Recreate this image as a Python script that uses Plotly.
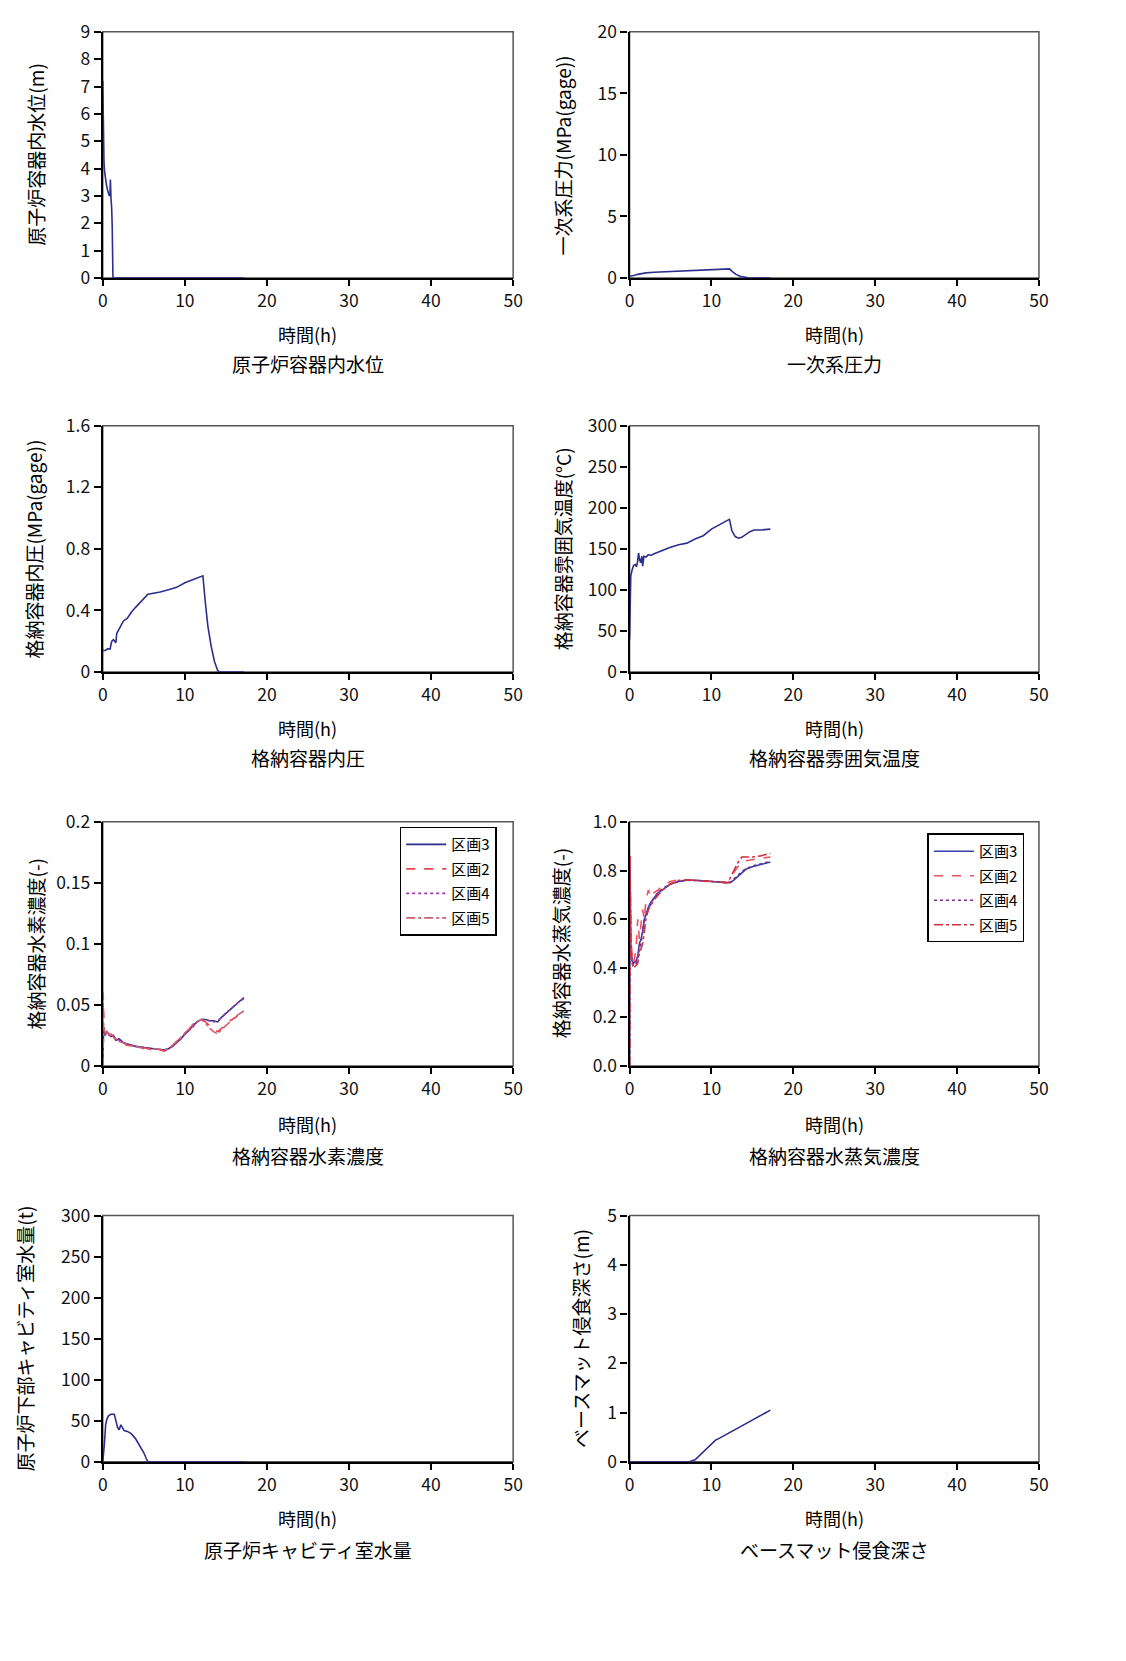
import plotly.graph_objects as go

# ---------------- data ----------------
x_ticks = [0, 10, 20, 30, 40, 50]
x_ticktext = ["0", "10", "20", "30", "40", "50"]

# 1 原子炉容器内水位
rv_t = [0, 0.03, 0.06, 0.1, 0.15, 0.22, 0.3, 0.45, 0.6, 0.8, 0.88, 0.93, 1.0, 1.08, 1.15, 1.2, 1.24, 3.0, 8.0, 13.0, 17.2]
rv_v = [7.2, 6.0, 5.6, 4.6, 4.2, 3.9, 3.7, 3.4, 3.2, 3.0, 3.05, 3.6, 2.9, 2.6, 1.9, 0.8, 0.0, 0.0, 0.0, 0.0, 0.0]

# 2 一次系圧力
pp_t = [0, 0.1, 0.5, 1, 2, 3, 4, 5, 6, 7, 8, 9, 10, 11, 11.8, 12.2, 12.6, 13.0, 13.5, 14.0, 14.5, 15.0, 17.2]
pp_v = [0.15, 0.15, 0.2, 0.3, 0.42, 0.47, 0.5, 0.55, 0.58, 0.63, 0.64, 0.65, 0.67, 0.7, 0.75, 0.74, 0.5, 0.3, 0.15, 0.07, 0.03, 0.01, 0.0]

# 3 格納容器内圧
cp_t = [0, 0.3, 0.6, 0.9, 1.0, 1.1, 1.3, 1.5, 1.6, 1.7, 1.9, 2.2, 2.5, 3.0, 3.5, 4.0, 4.5, 5.0, 5.5, 6.0, 7.0, 8.0, 9.0, 10.0, 11.0, 12.0, 12.2, 12.5, 12.8, 13.2, 13.6, 14.0, 14.2, 17.2]
cp_v = [0.14, 0.14, 0.15, 0.15, 0.18, 0.2, 0.21, 0.2, 0.19, 0.25, 0.27, 0.3, 0.33, 0.35, 0.39, 0.42, 0.45, 0.48, 0.505, 0.51, 0.52, 0.535, 0.55, 0.58, 0.6, 0.62, 0.625, 0.45, 0.3, 0.17, 0.07, 0.01, 0.0, 0.0]

# 4 格納容器雰囲気温度
ct_t = [0, 0.05, 0.15, 0.3, 0.5, 0.7, 0.85, 1.0, 1.1, 1.2, 1.35, 1.5, 1.6, 1.75, 2.0, 2.3, 2.6, 3.0, 4.0, 5.0, 6.0, 7.0, 8.0, 9.0, 10.0, 11.0, 12.0, 12.2, 12.5, 12.9, 13.3, 13.7, 14.2, 14.7, 15.2, 16.0, 17.2]
ct_v = [40, 100, 117, 124, 130, 131, 128, 136, 145, 138, 133, 141, 129, 141, 140, 143, 142, 144, 148, 152, 155, 157, 162, 166, 174, 180, 185, 186, 172, 165, 163, 164, 168, 171, 173, 173, 174]

# 5 格納容器水素濃度
zones = ["区画3", "区画2", "区画4", "区画5"]
h_t = [0, 0.05, 0.1, 0.2, 0.3, 0.5, 0.8, 1.0, 1.3, 1.6, 2.0, 2.5, 3.0, 4.0, 5.0, 6.0, 7.0, 7.5, 8.0, 8.5, 9.0, 9.5, 10.0, 10.5, 11.0, 11.5, 12.0, 12.5, 13.0, 13.5, 14.0, 14.5, 15.0, 15.5, 16.0, 16.5, 17.2]
h_z3 = [0, 0.02, 0.03, 0.027, 0.025, 0.028, 0.026, 0.024, 0.025, 0.021, 0.022, 0.019, 0.018, 0.016, 0.015, 0.014, 0.013, 0.013, 0.014, 0.016, 0.019, 0.022, 0.026, 0.029, 0.033, 0.036, 0.038, 0.038, 0.037, 0.037, 0.036, 0.04, 0.043, 0.046, 0.049, 0.052, 0.056]
h_z2 = [0, 0.06, 0.045, 0.03, 0.026, 0.029, 0.025, 0.026, 0.024, 0.022, 0.021, 0.018, 0.017, 0.016, 0.015, 0.013, 0.013, 0.012, 0.014, 0.017, 0.02, 0.023, 0.027, 0.03, 0.034, 0.036, 0.038, 0.036, 0.033, 0.03, 0.028, 0.031, 0.034, 0.037, 0.039, 0.041, 0.044]
h_z4 = [0, 0.015, 0.028, 0.026, 0.027, 0.027, 0.025, 0.025, 0.024, 0.022, 0.021, 0.019, 0.018, 0.016, 0.015, 0.014, 0.013, 0.013, 0.014, 0.016, 0.019, 0.022, 0.026, 0.029, 0.032, 0.036, 0.038, 0.038, 0.037, 0.036, 0.037, 0.04, 0.043, 0.046, 0.049, 0.052, 0.055]
h_z5 = [0, 0.03, 0.035, 0.028, 0.026, 0.028, 0.026, 0.025, 0.023, 0.022, 0.02, 0.019, 0.017, 0.016, 0.014, 0.014, 0.013, 0.013, 0.014, 0.017, 0.02, 0.023, 0.027, 0.03, 0.034, 0.036, 0.038, 0.035, 0.031, 0.028, 0.026, 0.03, 0.033, 0.036, 0.039, 0.042, 0.045]

# 6 格納容器水蒸気濃度
s_t = [0, 0.05, 0.15, 0.3, 0.5, 0.8, 1.0, 1.2, 1.4, 1.6, 1.8, 2.0, 2.3, 2.6, 3.0, 3.5, 4.0, 5.0, 6.0, 7.0, 8.0, 9.0, 10.0, 11.0, 12.0, 12.3, 12.7, 13.2, 13.7, 14.2, 15.0, 16.0, 17.2]
s_z3 = [0, 0.85, 0.5, 0.43, 0.42, 0.43, 0.45, 0.5, 0.52, 0.55, 0.6, 0.62, 0.65, 0.67, 0.69, 0.71, 0.72, 0.745, 0.755, 0.76, 0.76, 0.758, 0.755, 0.752, 0.75, 0.75, 0.76, 0.775, 0.79, 0.805, 0.815, 0.825, 0.835]
s_z2 = [0, 0.87, 0.55, 0.45, 0.42, 0.48, 0.6, 0.52, 0.58, 0.64, 0.6, 0.68, 0.72, 0.69, 0.71, 0.72, 0.74, 0.755, 0.762, 0.762, 0.76, 0.758, 0.755, 0.752, 0.75, 0.76, 0.79, 0.815, 0.83, 0.84, 0.845, 0.85, 0.855]
s_z4 = [0, 0.8, 0.48, 0.42, 0.41, 0.42, 0.44, 0.48, 0.5, 0.56, 0.6, 0.62, 0.64, 0.66, 0.69, 0.71, 0.725, 0.745, 0.755, 0.76, 0.76, 0.758, 0.755, 0.752, 0.75, 0.752, 0.765, 0.78, 0.795, 0.808, 0.818, 0.827, 0.838]
s_z5 = [0, 0.86, 0.52, 0.42, 0.4, 0.41, 0.42, 0.46, 0.48, 0.5, 0.55, 0.6, 0.64, 0.66, 0.68, 0.7, 0.72, 0.745, 0.76, 0.762, 0.76, 0.758, 0.755, 0.752, 0.75, 0.77, 0.8, 0.83, 0.855, 0.855, 0.855, 0.86, 0.87]

# 7 原子炉キャビティ室水量
cw_t = [0, 0.1, 0.2, 0.35, 0.5, 0.7, 1.0, 1.4, 1.55, 1.65, 1.8, 2.0, 2.2, 2.4, 2.6, 3.0, 3.5, 4.0, 4.5, 5.0, 5.3, 5.5, 10.0, 17.2]
cw_v = [0, 8, 22, 45, 52, 56, 58, 58, 50, 48, 42, 39, 45, 42, 38, 37, 34, 28, 20, 11, 4, 0, 0, 0]

# 8 ベースマット侵食深さ
be_t = [0, 5, 7.3, 8.0, 8.5, 9.0, 9.5, 10.0, 10.5, 11.0, 12.0, 13.0, 14.0, 15.0, 16.0, 17.2]
be_v = [0, 0, 0, 0.04, 0.12, 0.22, 0.3, 0.38, 0.44, 0.48, 0.57, 0.66, 0.75, 0.84, 0.93, 1.05]

# y-axis tick definitions
y1_ticks = [0, 1, 2, 3, 4, 5, 6, 7, 8, 9]
y1_text = ["0", "1", "2", "3", "4", "5", "6", "7", "8", "9"]
y2_ticks = [0, 5, 10, 15, 20]
y2_text = ["0", "5", "10", "15", "20"]
y3_ticks = [0, 0.4, 0.8, 1.2, 1.6]
y3_text = ["0", "0.4", "0.8", "1.2", "1.6"]
y4_ticks = [0, 50, 100, 150, 200, 250, 300]
y4_text = ["0", "50", "100", "150", "200", "250", "300"]
y5_ticks = [0, 0.05, 0.1, 0.15, 0.2]
y5_text = ["0", "0.05", "0.1", "0.15", "0.2"]
y6_ticks = [0, 0.2, 0.4, 0.6, 0.8, 1.0]
y6_text = ["0.0", "0.2", "0.4", "0.6", "0.8", "1.0"]
y7_ticks = [0, 50, 100, 150, 200, 250, 300]
y7_text = ["0", "50", "100", "150", "200", "250", "300"]
y8_ticks = [0, 1, 2, 3, 4, 5]
y8_text = ["0", "1", "2", "3", "4", "5"]

y_titles = ["原子炉容器内水位(m)", "一次系圧力(MPa(gage))", "格納容器内圧(MPa(gage))", "格納容器雰囲気温度(°C)",
            "格納容器水素濃度(-)", "格納容器水蒸気濃度(-)", "原子炉下部キャビティ室水量(t)", "ベースマット侵食深さ(m)"]
captions = ["原子炉容器内水位", "一次系圧力", "格納容器内圧", "格納容器雰囲気温度",
            "格納容器水素濃度", "格納容器水蒸気濃度", "原子炉キャビティ室水量", "ベースマット侵食深さ"]
x_title = "時間(h)"

# ---------------- layout helpers ----------------
OX, OY = 8, 8
FW, FH = 1110, 1645
def px_x(x):
    return (x - OX) / FW
def px_y(y):
    return 1 - (y - OY) / FH

FONT = "Noto Sans CJK JP"
NAVY = "#2B2E8C"
ZCOL = {"区画3": "#2B2E8C", "区画2": "#F0404A", "区画4": "#9A3AA8", "区画5": "#D06070"}
ZCOL6 = {"区画3": "#3A3FB0", "区画2": "#F05060", "区画4": "#7A2E8E", "区画5": "#D03040"}
ZDASH = {"区画3": "solid", "区画2": "dash", "区画4": "dot", "区画5": "dashdot"}

cols = [(99, 515), (633, 1048)]
rows = [(18, 268), (418, 668), (820, 1068), (1220, 1470)]
ytitle_x = [31, 565, 29, 565, 31, 563, 20, 583]
xtitle_y = [325, 725, 1127, 1527]
caption_y = [355, 755, 1159, 1559]

yranges = [[0, 9], [0, 20], [0, 1.6], [0, 300], [0, 0.2], [0, 1.0], [0, 300], [0, 5]]
yticks = [(y1_ticks, y1_text), (y2_ticks, y2_text), (y3_ticks, y3_text), (y4_ticks, y4_text),
          (y5_ticks, y5_text), (y6_ticks, y6_text), (y7_ticks, y7_text), (y8_ticks, y8_text)]
yminor = [None, None, None, None, 0.01, 0.05, None, None]

fig = go.Figure()

def add_line(i, t, v, name=None, color=NAVY, dash="solid", legend=None):
    sfx = "" if i == 1 else str(i)
    fig.add_trace(go.Scatter(
        x=t, y=v, mode="lines", name=name or "",
        line=dict(color=color, width=1.6, dash=dash),
        xaxis="x" + sfx, yaxis="y" + sfx,
        showlegend=legend is not None, legend=legend or "legend",
        legendgroup=(name or "") + str(i),
        hoverinfo="skip"))

add_line(1, rv_t, rv_v)
add_line(2, pp_t, pp_v)
add_line(3, cp_t, cp_v)
add_line(4, ct_t, ct_v)
for z, vals in zip(zones, [h_z3, h_z2, h_z4, h_z5]):
    add_line(5, h_t, vals, name=z, color=ZCOL[z], dash=ZDASH[z], legend="legend")
for z, vals in zip(zones, [s_z3, s_z2, s_z4, s_z5]):
    add_line(6, s_t, vals, name=z, color=ZCOL6[z], dash=ZDASH[z], legend="legend2")
add_line(7, cw_t, cw_v)
add_line(8, be_t, be_v)

layout = dict(
    width=FW, height=FH,
    margin=dict(l=0, r=0, t=0, b=0),
    paper_bgcolor="white", plot_bgcolor="white",
    font=dict(family=FONT, size=17, color="black"),
    shapes=[], annotations=[],
)

tickfont = dict(family=FONT, size=17.5, color="#111")
for k in range(8):
    i = k + 1
    sfx = "" if i == 1 else str(i)
    c = cols[k % 2]
    r = rows[k // 2]
    xd = [px_x(c[0]), px_x(c[1])]
    yd = [px_y(r[1]), px_y(r[0])]
    tv, tt = yticks[k]
    layout["xaxis" + sfx] = dict(
        domain=xd, anchor="y" + sfx, range=[0, 50],
        tickmode="array", tickvals=x_ticks, ticktext=x_ticktext,
        ticks="outside", ticklen=6, tickwidth=1.5, tickcolor="black",
        showline=True, linecolor="black", linewidth=2.2,
        showgrid=False, zeroline=False, tickfont=tickfont,
        fixedrange=True)
    layout["yaxis" + sfx] = dict(
        domain=yd, anchor="x" + sfx, range=yranges[k],
        tickmode="array", tickvals=tv, ticktext=tt,
        ticks="outside", ticklen=7, tickwidth=1.5, tickcolor="black",
        showline=True, linecolor="black", linewidth=2.2,
        showgrid=False, zeroline=False, tickfont=tickfont,
        fixedrange=True)
    # overlay axes for the inner half of the crossing ticks and minor ticks
    ox = str(8 + i)
    layout["xaxis" + ox] = dict(
        overlaying="x" + sfx, anchor="y" + sfx, range=[0, 50],
        tickmode="array", tickvals=x_ticks, ticks="inside", ticklen=6,
        tickwidth=1.5, tickcolor="black", showticklabels=False,
        showline=False, showgrid=False, zeroline=False,
        minor=dict(tickmode="array", tickvals=[5, 15, 25, 35, 45], ticks="inside",
                   ticklen=4, tickwidth=1.2, tickcolor="#333"),
        fixedrange=True)
    ydict = dict(
        overlaying="y" + sfx, anchor="x" + sfx, range=yranges[k], side="left",
        tickmode="array", tickvals=tv, ticks="inside", ticklen=6,
        tickwidth=1.5, tickcolor="black", showticklabels=False,
        showline=False, showgrid=False, zeroline=False, fixedrange=True)
    if yminor[k]:
        ydict["minor"] = dict(dtick=yminor[k], ticks="inside", ticklen=4,
                              tickwidth=1.2, tickcolor="#333")
    layout["yaxis" + ox] = ydict
    # frame (top/right grey border)
    layout["shapes"].append(dict(
        type="rect", xref="x" + sfx + " domain", yref="y" + sfx + " domain",
        x0=0, x1=1, y0=0, y1=1, line=dict(color="#555", width=1.5), layer="below"))
    # titles
    cx = (c[0] + c[1]) / 2
    layout["annotations"].append(dict(
        text=x_title, xref="paper", yref="paper", x=px_x(cx), y=px_y(xtitle_y[k // 2]),
        xanchor="center", yanchor="middle", showarrow=False, borderpad=0,
        font=dict(size=18)))
    layout["annotations"].append(dict(
        text=captions[k], xref="paper", yref="paper", x=px_x(cx), y=px_y(caption_y[k // 2]),
        xanchor="center", yanchor="middle", showarrow=False, borderpad=0,
        font=dict(size=19)))
    layout["annotations"].append(dict(
        text=y_titles[k], xref="paper", yref="paper", x=px_x(ytitle_x[k]),
        y=px_y((r[0] + r[1]) / 2), textangle=-90,
        xanchor="center", yanchor="middle", showarrow=False, borderpad=0,
        font=dict(size=19)))

legend_common = dict(
    bgcolor="white", bordercolor="black", borderwidth=1.5,
    font=dict(family=FONT, size=15, color="black"),
    xanchor="left", yanchor="top", tracegroupgap=2, itemwidth=40,
)
layout["legend"] = dict(legend_common, x=px_x(400), y=px_y(825))
layout["legend2"] = dict(legend_common, x=px_x(935), y=px_y(832))

fig.update_layout(**layout)
fig.write_html("out.html")
